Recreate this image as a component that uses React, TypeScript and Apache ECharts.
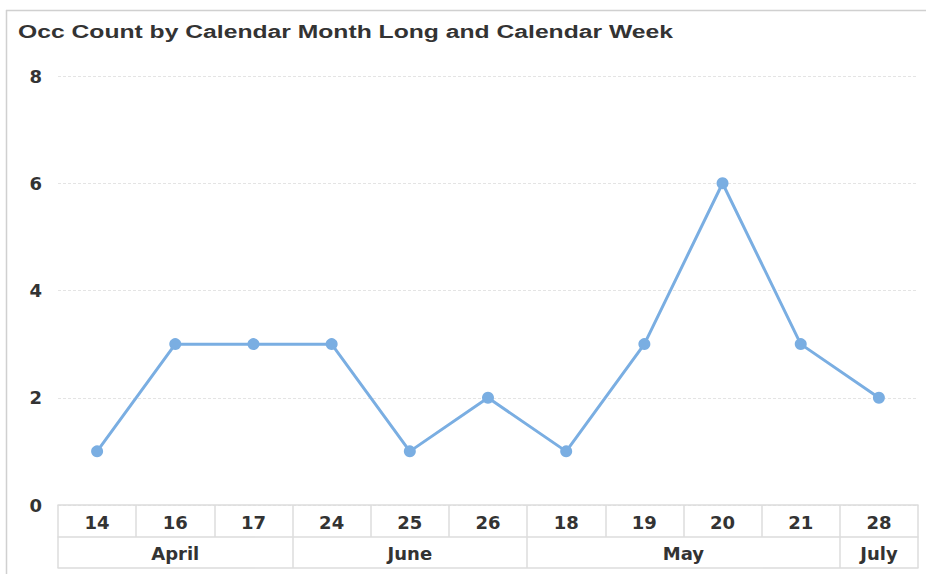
import React, { useEffect, useRef } from "react";
import * as echarts from "echarts";

const weeks = ["14", "16", "17", "24", "25", "26", "18", "19", "20", "21", "28"];
const occCount = [1, 3, 3, 3, 1, 2, 1, 3, 6, 3, 2];
const months = ["April", "June", "May", "July"];
const monthWeekCounts = [3, 3, 4, 1];
const yTicks = [0, 2, 4, 6, 8];
const titleText = "Occ Count by Calendar Month Long and Calendar Week";

const TEXT = "#333333";
const GRID_LINE = "#dcdcdc";
const LINE_BLUE = "#7aaee2";
const FONT = "DejaVu Sans, Verdana, sans-serif";

export default function App() {
  const ref = useRef<HTMLDivElement>(null);
  useEffect(() => {
    if (!ref.current) return;
    const chart = echarts.init(ref.current, undefined, { renderer: "svg" });

    const bounds: number[] = [0];
    const centers: number[] = [];
    let acc = 0;
    monthWeekCounts.forEach((c) => {
      centers.push(acc + c / 2);
      acc += c;
      bounds.push(acc);
    });
    const centerLabel = new Map<number, string>();
    centers.forEach((c, i) => centerLabel.set(c, months[i]));

    const tickFont = {
      fontFamily: FONT,
      fontSize: 18,
      fontWeight: "bold",
      color: TEXT,
    };

    chart.setOption({
      animation: false,
      backgroundColor: "#ffffff",
      graphic: [
        {
          type: "line",
          shape: { x1: 6, y1: 10.5, x2: 926, y2: 10.5 },
          style: { stroke: "#d0d0d0", lineWidth: 1.5 },
        },
        {
          type: "line",
          shape: { x1: 6.5, y1: 10, x2: 6.5, y2: 574 },
          style: { stroke: "#d0d0d0", lineWidth: 1.5 },
        },
        {
          type: "text",
          x: 18,
          y: 32,
          scaleX: 1.3,
          style: {
            text: titleText,
            fontFamily: "Liberation Sans, Arial, sans-serif",
            fontSize: 19,
            fontWeight: "bold",
            fill: TEXT,
            verticalAlign: "middle",
            align: "left",
          },
        },
      ],
      grid: { left: 58, right: 8, top: 76, bottom: 69 },
      xAxis: [
        {
          type: "category",
          data: weeks,
          boundaryGap: true,
          position: "bottom",
          axisLine: { show: true, lineStyle: { color: GRID_LINE, width: 1.5 } },
          axisTick: {
            show: true,
            inside: false,
            length: 32,
            lineStyle: { color: GRID_LINE, width: 1.5 },
          },
          axisLabel: { margin: 8, ...tickFont },
          splitLine: { show: false },
        },
        {
          type: "value",
          min: 0,
          max: weeks.length,
          position: "bottom",
          offset: 32,
          axisLine: { show: true, lineStyle: { color: GRID_LINE, width: 1.5 } },
          axisTick: {
            show: true,
            inside: false,
            length: 31,
            customValues: bounds,
            lineStyle: { color: GRID_LINE, width: 1.5 },
          },
          axisLabel: {
            margin: 7,
            customValues: centers,
            formatter: (v: number) => centerLabel.get(v) ?? "",
            ...tickFont,
          },
          splitLine: { show: false },
        },
        {
          type: "value",
          min: 0,
          max: weeks.length,
          position: "bottom",
          offset: 63,
          axisLine: { show: true, lineStyle: { color: GRID_LINE, width: 1.5 } },
          axisTick: { show: false },
          axisLabel: { show: false },
          splitLine: { show: false },
        },
      ],
      yAxis: {
        type: "value",
        min: yTicks[0],
        max: yTicks[yTicks.length - 1],
        interval: 2,
        axisLine: { show: false },
        axisTick: { show: false },
        axisLabel: { margin: 16, ...tickFont },
        splitLine: {
          show: true,
          lineStyle: { color: "#e4e4e4", type: [3, 2], width: 1 },
        },
      },
      series: [
        {
          type: "line",
          xAxisIndex: 0,
          data: occCount,
          symbol: "circle",
          symbolSize: 12,
          lineStyle: { color: LINE_BLUE, width: 3 },
          itemStyle: { color: LINE_BLUE },
        },
      ],
    });
    return () => chart.dispose();
  }, []);

  return (
    <div
      ref={ref}
      style={{ position: "fixed", left: 0, top: 0, width: 926, height: 574 }}
    />
  );
}
